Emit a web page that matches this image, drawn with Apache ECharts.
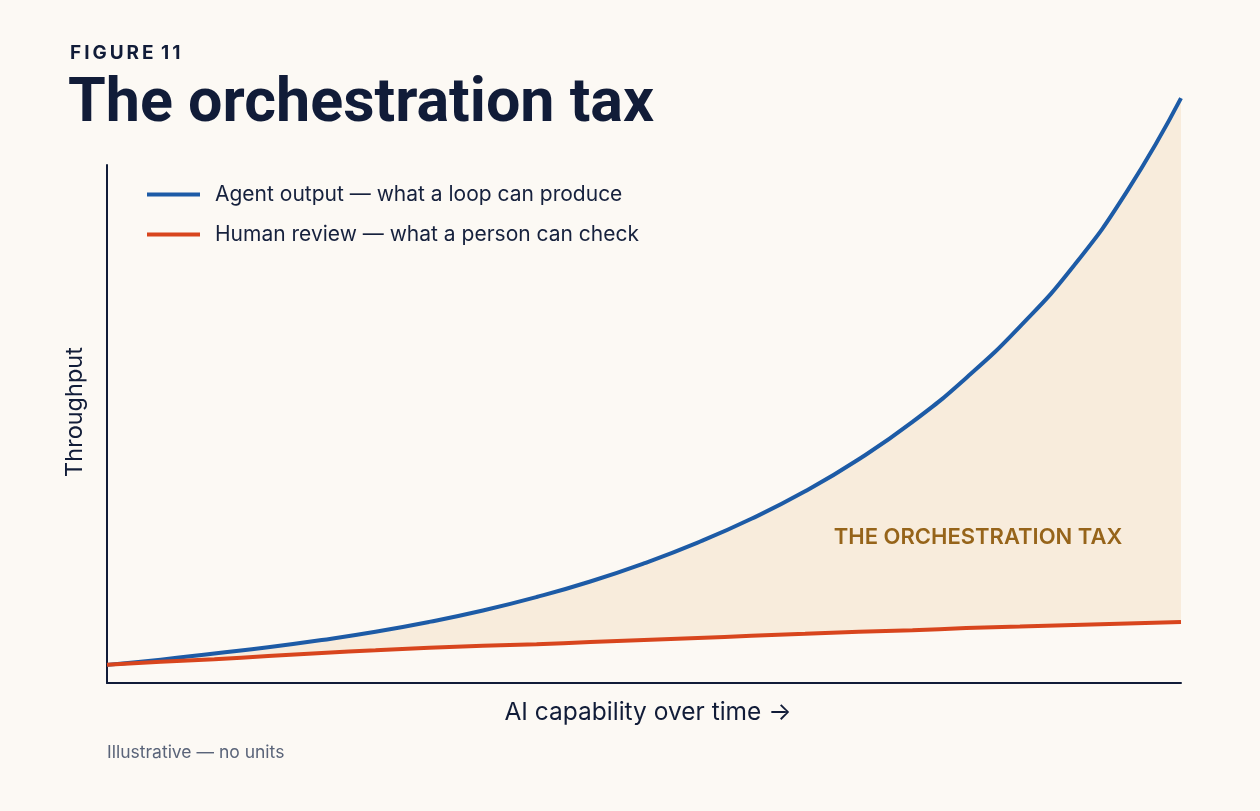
<!DOCTYPE html>
<html>
<head>
<meta charset="utf-8">
<script src="https://cdn.jsdelivr.net/npm/echarts@6/dist/echarts.min.js"></script>
<style>
  html, body { margin: 0; padding: 0; background: #fcf9f4; }
  #chart { width: 1260px; height: 811px; }
</style>
</head>
<body>
<div id="chart"></div>
<script>
// Capability steps (x, 0..100) and throughput values (y, no units)
const capability = ['0', '5', '10', '15', '20', '25', '30', '35', '40', '45', '50', '55', '60', '65', '70', '75', '80', '85', '90', '95', '100'];
const agentOutput = [3.5, 4.5, 5.7, 6.9, 8.3, 9.9, 11.8, 14.0, 16.6, 19.6, 23.1, 27.1, 31.7, 37.0, 43.2, 50.4, 58.9, 68.8, 80.5, 95.0, 112.9];
const humanReview = [3.5, 4.1, 4.6, 5.2, 5.8, 6.3, 6.8, 7.2, 7.5, 7.9, 8.3, 8.7, 9.1, 9.5, 9.9, 10.2, 10.6, 10.9, 11.2, 11.5, 11.8];
const seriesNames = ['Agent output — what a loop can produce', 'Human review — what a person can check'];

const navy = '#111c38';
const blue = '#1d5ba6';
const red = '#d8451d';
const fill = '#f8ecdc';
const bg = '#fcf9f4';
const font = 'Inter, "Noto Sans", sans-serif';

const gap = agentOutput.map((v, i) => +(v - humanReview[i]).toFixed(2));

const chart = echarts.init(document.getElementById('chart'), null, { renderer: 'canvas' });
chart.setOption({
  backgroundColor: bg,
  animation: false,
  textStyle: { fontFamily: font },
  grid: { left: 107, right: 79, top: 165, bottom: 128 },
  xAxis: {
    type: 'category', data: capability, boundaryGap: false,
    axisLine: { show: true, lineStyle: { color: navy, width: 2 } },
    axisTick: { show: false }, axisLabel: { show: false }, splitLine: { show: false }
  },
  yAxis: {
    type: 'value', min: 0, max: 100,
    axisLine: { show: true, lineStyle: { color: navy, width: 2 } },
    axisTick: { show: false }, axisLabel: { show: false }, splitLine: { show: false }
  },
  legend: {
    data: seriesNames,
    orient: 'vertical',
    left: 147, top: 184, padding: 0,
    itemWidth: 53, itemHeight: 4,
    itemGap: 19,
    icon: 'rect',
    textStyle: { fontFamily: font, fontSize: 21, color: '#16213d', padding: [0, 0, 0, 10] }
  },
  series: [
    {
      type: 'line', name: 'base', data: humanReview, stack: 'gap',
      smooth: true, symbol: 'none', clip: false, silent: true,
      lineStyle: { width: 0, opacity: 0 }
    },
    {
      type: 'line', name: 'gap', data: gap, stack: 'gap',
      smooth: true, symbol: 'none', clip: false, silent: true,
      lineStyle: { width: 0, opacity: 0 },
      areaStyle: { color: fill, opacity: 1 }
    },
    {
      type: 'line', name: seriesNames[0], data: agentOutput,
      smooth: true, symbol: 'none', clip: false, z: 4,
      color: blue, lineStyle: { color: blue, width: 4 }
    },
    {
      type: 'line', name: seriesNames[1], data: humanReview,
      smooth: true, symbol: 'none', clip: false, z: 5,
      color: red, lineStyle: { color: red, width: 4 }
    }
  ],
  graphic: [
    { type: 'text', left: 70, top: 44, style: { text: 'F\u2009I\u2009G\u2009U\u2009R\u2009E\u2009 1\u20091', font: 'bold 19px ' + font, fill: navy } },
    { type: 'text', left: 68, top: 75, style: { text: 'The orchestration tax', font: 'bold 61px Roboto, ' + font, fill: navy } },
    { type: 'text', x: 75, y: 412, rotation: Math.PI / 2, style: { text: 'Throughput', font: '23.5px ' + font, fill: navy, align: 'center', verticalAlign: 'middle' } },
    { type: 'text', x: 648, y: 713, style: { text: 'AI capability over time →', font: '24.5px ' + font, fill: navy, align: 'center', verticalAlign: 'middle' } },
    { type: 'text', x: 107, y: 753, style: { text: 'Illustrative — no units', font: '17.5px ' + font, fill: '#5a6479', verticalAlign: 'middle' } },
    { type: 'text', x: 978, y: 537, z: 10, style: { text: 'THE ORCHESTRATION TAX', font: '600 22px ' + font, fill: '#96641a', align: 'center', verticalAlign: 'middle' } }
  ]
});
</script>
</body>
</html>
